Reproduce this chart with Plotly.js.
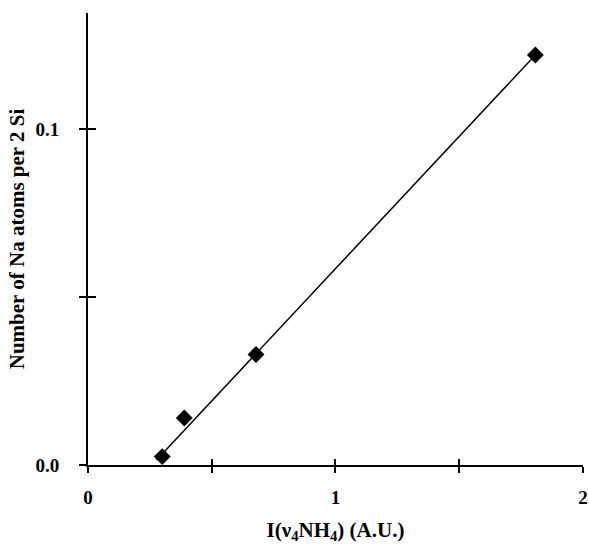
<!DOCTYPE html>
<html>
<head>
<meta charset="utf-8">
<script src="https://cdn.plot.ly/plotly-3.0.1.min.js"></script>
<style>html,body{margin:0;padding:0;background:#fff;}#chart{width:589px;height:544px;}</style>
</head>
<body>
<div id="chart"></div>
<script>
// Measured data points
const intensity = [0.300, 0.389, 0.679, 1.808];
const naAtoms = [0.0025, 0.0140, 0.0329, 0.1221];
// Fitted line endpoints
const fitX = [0.277, 1.808];
const fitY = [0.0015, 0.1221];

const xTitle = 'I(ν<sub>4</sub>NH<sub>4</sub>) (A.U.)';
const yTitle = 'Number of Na atoms per 2 Si';

const fam = '"Liberation Serif", "Times New Roman", serif';
const titleFont = {family: fam, size: 21, color: '#000', weight: 'bold'};
const tickFont = {family: fam, size: 19, color: '#000', weight: 'bold'};

const traces = [
  {x: fitX, y: fitY, mode: 'lines', line: {color: '#000', width: 1.5}, hoverinfo: 'skip'},
  {x: intensity, y: naAtoms, mode: 'markers', marker: {symbol: 'diamond', size: 13, color: '#000'}},
  {x: [0], y: [0], xaxis: 'x2', yaxis: 'y2', mode: 'markers', marker: {opacity: 0}, hoverinfo: 'skip'}
];

const axisCommon = {showgrid: false, zeroline: false, showline: true, linecolor: '#000', linewidth: 2,
  tickcolor: '#000', tickwidth: 2, tickfont: tickFont, ticklabeloverflow: 'allow'};

const xRange = [0, 2.0005];
const yRange = [0, 0.1346];

const layout = {
  width: 589, height: 544,
  margin: {l: 88, r: 6, t: 13, b: 79},
  showlegend: false,
  paper_bgcolor: '#fff', plot_bgcolor: '#fff',
  font: {family: fam, color: '#000'},
  xaxis: Object.assign({}, axisCommon, {
    range: xRange, dtick: 1, tick0: 0, ticks: 'outside', ticklen: 6,
    minor: {dtick: 0.5, ticks: 'outside', ticklen: 6, tickwidth: 2, tickcolor: '#000', showgrid: false},
    ticklabelstandoff: 8,
    title: {text: '<b>' + xTitle + '</b>', font: titleFont, standoff: 22}
  }),
  yaxis: Object.assign({}, axisCommon, {
    range: yRange, dtick: 0.1, tick0: 0, tickformat: '.1f', ticks: 'outside', ticklen: 7,
    minor: {dtick: 0.05, ticks: 'outside', ticklen: 7, tickwidth: 2, tickcolor: '#000', showgrid: false},
    ticklabelstandoff: 16,
    title: {text: '<b>' + yTitle + '</b>', font: titleFont, standoff: 5}
  }),
  xaxis2: {overlaying: 'x', range: xRange, dtick: 1, tick0: 0, ticks: 'inside', ticklen: 6, tickwidth: 2,
    tickcolor: '#000', showticklabels: false, showgrid: false, zeroline: false, showline: false, side: 'bottom',
    minor: {dtick: 0.5, ticks: 'inside', ticklen: 6, tickwidth: 2, tickcolor: '#000', showgrid: false}},
  yaxis2: {overlaying: 'y', range: yRange, dtick: 0.1, tick0: 0, ticks: 'inside', ticklen: 8, tickwidth: 2,
    tickcolor: '#000', showticklabels: false, showgrid: false, zeroline: false, showline: false, side: 'left',
    minor: {dtick: 0.05, ticks: 'inside', ticklen: 8, tickwidth: 2, tickcolor: '#000', showgrid: false}}
};

Plotly.newPlot('chart', traces, layout, {displayModeBar: false, staticPlot: true});
</script>
</body>
</html>
